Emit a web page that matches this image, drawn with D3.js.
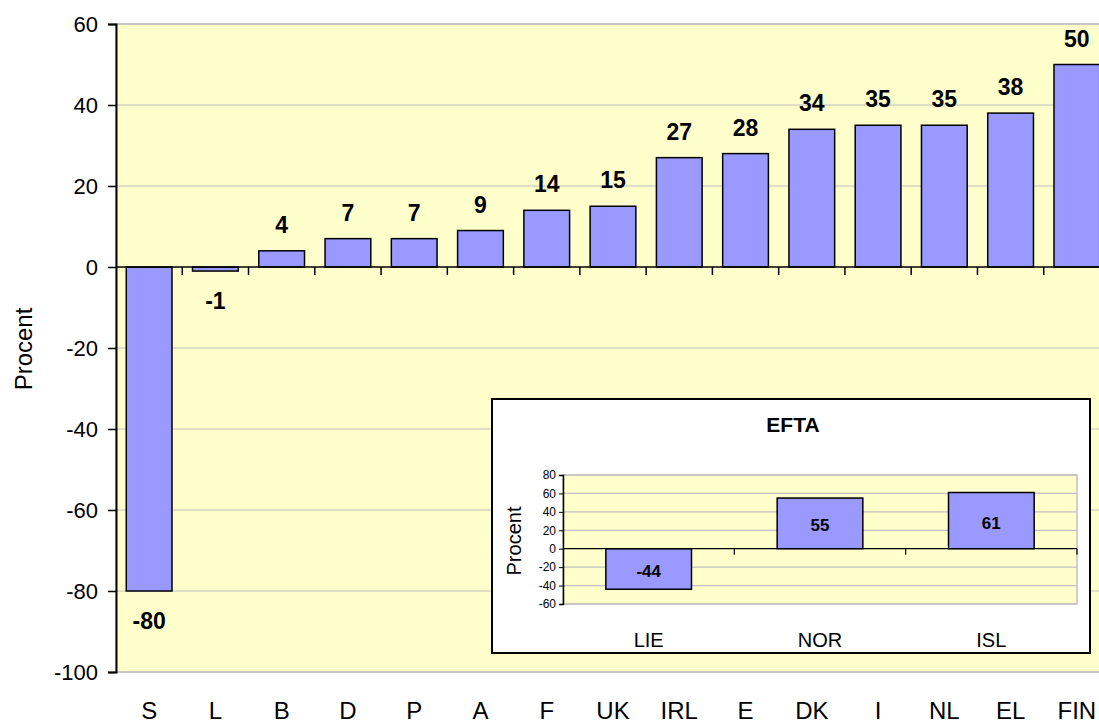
<!DOCTYPE html>
<html>
<head>
<meta charset="utf-8">
<script src="https://cdn.jsdelivr.net/npm/d3@7"></script>
<style>
  body { margin: 0; background: #fff; }
  svg { display: block; font-family: Arial, "Liberation Sans", sans-serif; }
</style>
</head>
<body>
<div id="chart"></div>
<script>
// --- Data ---
const countries = ["S", "L", "B", "D", "P", "A", "F", "UK", "IRL", "E", "DK", "I", "NL", "EL", "FIN"];
const values = [-80, -1, 4, 7, 7, 9, 14, 15, 27, 28, 34, 35, 35, 38, 50];
const yTicks = [60, 40, 20, 0, -20, -40, -60, -80, -100];

const eftaCountries = ["LIE", "NOR", "ISL"];
const eftaValues = [-44, 55, 61];
const eftaTicks = [80, 60, 40, 20, 0, -20, -40, -60];

const W = 1099, H = 724;
const svg = d3.select("#chart").append("svg").attr("width", W).attr("height", H);

const BAR = "#9999ff", BG = "#ffffcc", GRID = "#c0c0c0";
const FONT = "Arial, 'Liberation Sans', sans-serif";

// --- Main chart ---
const x = d3.scaleBand().domain(countries).range([116, 1110]).paddingInner(0.31).paddingOuter(0.155);
const y = d3.scaleLinear().domain([-100, 60]).range([672, 24]);

svg.append("rect").attr("x", 116).attr("y", y(60)).attr("width", 1110 - 116).attr("height", y(-100) - y(60))
  .attr("fill", BG).attr("stroke", GRID).attr("stroke-width", 1.5);

svg.append("g").selectAll("line").data(yTicks.filter(t => t !== 0)).enter().append("line")
  .attr("x1", 116).attr("x2", 1110).attr("y1", d => y(d)).attr("y2", d => y(d))
  .attr("stroke", GRID).attr("stroke-width", 1.2);

svg.append("g").selectAll("rect").data(values).enter().append("rect")
  .attr("x", (d, i) => x(countries[i]))
  .attr("y", d => y(Math.max(0, d)))
  .attr("width", x.bandwidth())
  .attr("height", d => Math.abs(y(d) - y(0)))
  .attr("fill", BAR).attr("stroke", "#000").attr("stroke-width", 1.5);

// zero line with ticks between categories
svg.append("line").attr("x1", 116).attr("x2", 1110).attr("y1", y(0)).attr("y2", y(0)).attr("stroke", "#000").attr("stroke-width", 1.5);
svg.append("g").selectAll("line").data(countries.slice(1)).enter().append("line")
  .attr("x1", d => x(d) - x.step() * x.paddingInner() / 2).attr("x2", d => x(d) - x.step() * x.paddingInner() / 2)
  .attr("y1", y(0)).attr("y2", y(0) + 8).attr("stroke", "#000").attr("stroke-width", 1.5);

// y axis
const yAxis = svg.append("g").attr("transform", "translate(116,0)")
  .call(d3.axisLeft(y).tickValues(yTicks).tickFormat(d => String(d)).tickSize(8).tickPadding(10));
yAxis.select(".domain").attr("stroke-width", 2);
yAxis.selectAll(".tick line").attr("stroke-width", 1.5);
yAxis.selectAll("text").attr("font-size", 22).attr("fill", "#000").attr("font-family", FONT);

// category labels
svg.append("g").selectAll("text").data(countries).enter().append("text")
  .attr("x", d => x(d) + x.bandwidth() / 2).attr("y", 719)
  .attr("text-anchor", "middle").attr("font-size", 24).text(d => d);

// value labels
svg.append("g").selectAll("text").data(values).enter().append("text")
  .attr("x", (d, i) => x(countries[i]) + x.bandwidth() / 2)
  .attr("y", d => d >= 0 ? y(d) - 18 : y(d) + 38)
  .attr("text-anchor", "middle").attr("font-size", 23).attr("font-weight", "bold").text(d => d);

svg.append("text").attr("transform", "translate(32,349) rotate(-90)")
  .attr("text-anchor", "middle").attr("font-size", 24).text("Procent");

// --- EFTA inset ---
const inset = svg.append("g");
inset.append("rect").attr("x", 492).attr("y", 399).attr("width", 598).attr("height", 254)
  .attr("fill", "#fff").attr("stroke", "#000").attr("stroke-width", 2);
inset.append("text").attr("x", 793).attr("y", 432).attr("text-anchor", "middle")
  .attr("font-size", 21).attr("font-weight", "bold").text("EFTA");

const ex = d3.scaleBand().domain(eftaCountries).range([563, 1077]).paddingInner(0.5).paddingOuter(0.25);
const ey = d3.scaleLinear().domain([-60, 80]).range([604, 475]);

inset.append("rect").attr("x", 563).attr("y", ey(80)).attr("width", 1077 - 563).attr("height", ey(-60) - ey(80))
  .attr("fill", BG).attr("stroke", GRID).attr("stroke-width", 1.5);
inset.append("g").selectAll("line").data(eftaTicks.filter(t => t !== 0)).enter().append("line")
  .attr("x1", 563).attr("x2", 1077).attr("y1", d => ey(d)).attr("y2", d => ey(d))
  .attr("stroke", GRID).attr("stroke-width", 1.2);

inset.append("g").selectAll("rect").data(eftaValues).enter().append("rect")
  .attr("x", (d, i) => ex(eftaCountries[i]))
  .attr("y", d => ey(Math.max(0, d)))
  .attr("width", ex.bandwidth())
  .attr("height", d => Math.abs(ey(d) - ey(0)))
  .attr("fill", BAR).attr("stroke", "#000").attr("stroke-width", 1.5);

inset.append("line").attr("x1", 563).attr("x2", 1077).attr("y1", ey(0)).attr("y2", ey(0)).attr("stroke", "#000").attr("stroke-width", 1.2);
inset.append("g").selectAll("line").data(eftaCountries).enter().append("line")
  .attr("x1", d => ex(d) + ex.bandwidth() + ex.step() * ex.paddingInner() / 2)
  .attr("x2", d => ex(d) + ex.bandwidth() + ex.step() * ex.paddingInner() / 2)
  .attr("y1", ey(0)).attr("y2", ey(0) + 6).attr("stroke", "#000").attr("stroke-width", 1.2);

const eyAxis = inset.append("g").attr("transform", "translate(563,0)")
  .call(d3.axisLeft(ey).tickValues(eftaTicks).tickFormat(d => String(d)).tickSize(4).tickPadding(3));
eyAxis.select(".domain").attr("stroke-width", 1.5);
eyAxis.selectAll("text").attr("font-size", 12).attr("fill", "#000").attr("font-family", FONT);

inset.append("g").selectAll("text").data(eftaCountries).enter().append("text")
  .attr("x", d => ex(d) + ex.bandwidth() / 2).attr("y", 647)
  .attr("text-anchor", "middle").attr("font-size", 20).text(d => d);

inset.append("g").selectAll("text").data(eftaValues).enter().append("text")
  .attr("x", (d, i) => ex(eftaCountries[i]) + ex.bandwidth() / 2)
  .attr("y", d => (ey(d) + ey(0)) / 2 + 8)
  .attr("text-anchor", "middle").attr("font-size", 17).attr("font-weight", "bold").text(d => d);

inset.append("text").attr("transform", "translate(521,541) rotate(-90)")
  .attr("text-anchor", "middle").attr("font-size", 20).text("Procent");
</script>
</body>
</html>
